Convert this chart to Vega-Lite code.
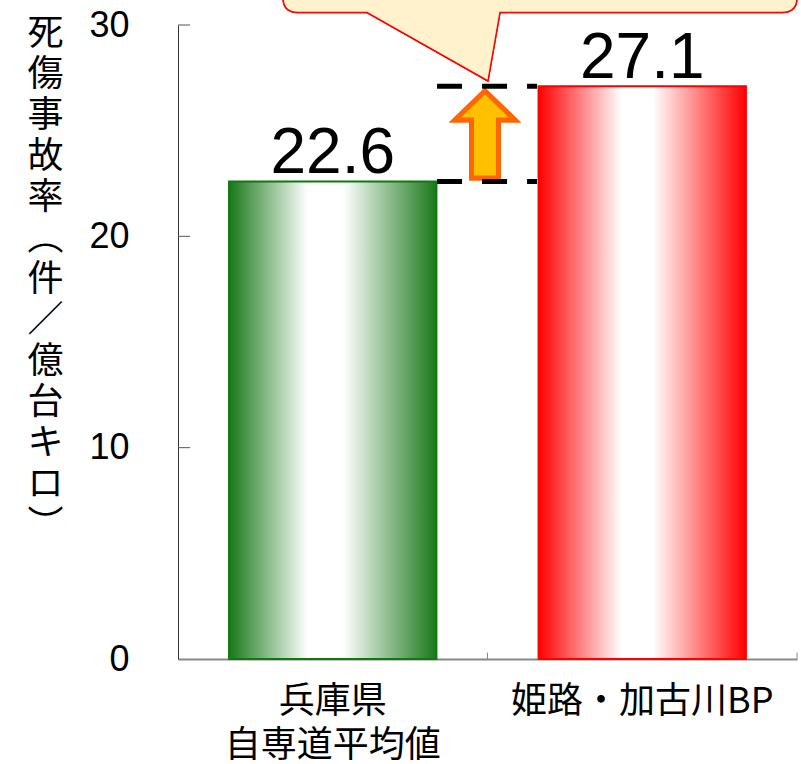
{
  "$schema": "https://vega.github.io/schema/vega-lite/v6.json",
  "width": 619,
  "height": 634,
  "autosize": {"type": "none"},
  "padding": {"left": 178, "top": 25, "right": 4, "bottom": 105},
  "background": "white",
  "config": {"view": {"stroke": null}},
  "data": {"values": [
    {"name": "兵庫県 自専道平均値", "value": 22.6},
    {"name": "姫路・加古川BP", "value": 27.1}
  ]},
  "layer": [
    {
      "mark": {
        "type": "point",
        "shape": "M0.5,-5.3 L12.5,-73.8 L294.5,-73.8 Q309.5,-73.8 309.5,-88.8 L309.5,-200 L-204.5,-200 L-204.5,-88.8 Q-204.5,-73.8 -189.5,-73.8 L-120.5,-73.8 Z",
        "size": 4,
        "filled": true,
        "fill": "#fff2cc",
        "stroke": "#ff0000",
        "strokeWidth": 1.5,
        "opacity": 1,
        "fillOpacity": 1,
        "strokeOpacity": 1
      },
      "encoding": {
        "x": {"datum": 1, "type": "quantitative", "scale": {"domain": [0, 2], "nice": false, "zero": false}, "axis": null},
        "y": {"datum": 27.1, "type": "quantitative", "scale": {"domain": [0, 30], "nice": false}, "axis": null}
      }
    },
    {
      "layer": [
        {
          "mark": {
            "type": "bar",
            "width": {"band": 0.67},
            "strokeWidth": 2
          },
          "encoding": {
            "x": {
              "field": "name",
              "type": "nominal",
              "scale": {"domain": ["兵庫県 自専道平均値", "姫路・加古川BP"], "paddingInner": 0, "paddingOuter": 0},
              "axis": {
                "title": null,
                "labelAngle": 0,
                "labelExpr": "split(datum.label, ' ')",
                "labelFont": "Noto Sans CJK JP",
                "labelFontSize": 36,
                "labelLineHeight": 44,
                "labelLimit": 500,
                "labelColor": "#000000",
                "labelBaseline": "top",
                "labelPadding": 25,
                "domainColor": "#888888",
                "domainWidth": 2,
                "ticks": false
              }
            },
            "y": {
              "field": "value",
              "type": "quantitative",
              "scale": {"domain": [0, 30], "nice": false},
              "axis": {
                "values": [0, 10, 20, 30],
                "grid": false,
                "ticks": false,
                "title": ["死", "傷", "事", "故", "率", "︵", "件", "／", "億", "台", "キ", "ロ", "︶"],
                "titleAngle": 0,
                "titleAlign": "center",
                "titleBaseline": "top",
                "titleX": -133,
                "titleY": -9,
                "titleFont": "Noto Sans CJK JP",
                "titleFontSize": 36,
                "titleFontWeight": "normal",
                "titleLineHeight": 41,
                "titleColor": "#000000",
                "labelFont": "Liberation Sans",
                "labelFontSize": 36,
                "labelColor": "#000000",
                "labelPadding": 49,
                "domainColor": "#333333",
                "domainWidth": 1
              }
            },
            "fill": {
              "condition": {
                "test": "datum.name === '姫路・加古川BP'",
                "value": {
                  "gradient": "linear",
                  "x1": 0, "y1": 0, "x2": 1, "y2": 0,
                  "stops": [
                    {"offset": 0, "color": "#ff0000"},
                    {"offset": 0.4, "color": "#ffffff"},
                    {"offset": 0.55, "color": "#ffffff"},
                    {"offset": 1, "color": "#ff0000"}
                  ]
                }
              },
              "value": {
                "gradient": "linear",
                "x1": 0, "y1": 0, "x2": 1, "y2": 0,
                "stops": [
                  {"offset": 0, "color": "#1a781a"},
                  {"offset": 0.38, "color": "#ffffff"},
                  {"offset": 0.55, "color": "#ffffff"},
                  {"offset": 1, "color": "#1a781a"}
                ]
              }
            },
            "stroke": {
              "condition": {"test": "datum.name === '姫路・加古川BP'", "value": "#ff0000"},
              "value": "#0c7a0c"
            }
          }
        },
        {
          "mark": {
            "type": "text",
            "font": "Liberation Sans",
            "fontSize": 64,
            "baseline": "alphabetic",
            "align": "center",
            "dy": -8,
            "color": "#000000"
          },
          "encoding": {
            "x": {"field": "name", "type": "nominal"},
            "y": {"field": "value", "type": "quantitative"},
            "text": {"field": "value", "type": "quantitative", "format": ".1f"}
          }
        }
      ]
    },
    {
      "data": {"values": [{"tick": 10}, {"tick": 20}, {"tick": 30}]},
      "mark": {"type": "rule", "color": "#555555", "strokeWidth": 1},
      "encoding": {
        "x": {"datum": 0, "type": "quantitative", "scale": {"domain": [0, 2], "nice": false, "zero": false}, "axis": null},
        "x2": {"datum": 0.039},
        "y": {"field": "tick", "type": "quantitative", "scale": {"domain": [0, 30], "nice": false}, "axis": null}
      }
    },
    {
      "data": {"values": [{"edge": 1}, {"edge": 2}]},
      "mark": {"type": "rule", "color": "#888888", "strokeWidth": 1},
      "encoding": {
        "x": {"field": "edge", "type": "quantitative", "scale": {"domain": [0, 2], "nice": false, "zero": false}, "axis": null},
        "y": {"datum": 0, "type": "quantitative", "scale": {"domain": [0, 30], "nice": false}, "axis": null},
        "y2": {"datum": 0.3}
      }
    },
    {
      "mark": {
        "type": "point",
        "shape": "M-2.5,-90.4 L27.5,-61.4 L11,-61.4 L11,-3.4 L-16,-3.4 L-16,-61.4 L-32.5,-61.4 Z",
        "size": 4,
        "filled": true,
        "fill": "#ffc000",
        "stroke": "#ff6600",
        "strokeWidth": 5,
        "strokeJoin": "miter",
        "opacity": 1,
        "fillOpacity": 1,
        "strokeOpacity": 1
      },
      "encoding": {
        "x": {"datum": 1, "type": "quantitative", "scale": {"domain": [0, 2], "nice": false, "zero": false}, "axis": null},
        "y": {"datum": 22.6, "type": "quantitative", "scale": {"domain": [0, 30], "nice": false}, "axis": null}
      }
    },
    {
      "mark": {
        "type": "rule",
        "color": "#000000",
        "strokeWidth": 5,
        "strokeDash": [25, 20]
      },
      "encoding": {
        "x": {"datum": 0.837, "type": "quantitative", "scale": {"domain": [0, 2], "nice": false, "zero": false}, "axis": null},
        "x2": {"datum": 1.16},
        "y": {"field": "value", "type": "quantitative", "scale": {"domain": [0, 30], "nice": false}, "axis": null}
      }
    }
  ],
  "resolve": {"scale": {"x": "independent", "y": "independent"}}
}
